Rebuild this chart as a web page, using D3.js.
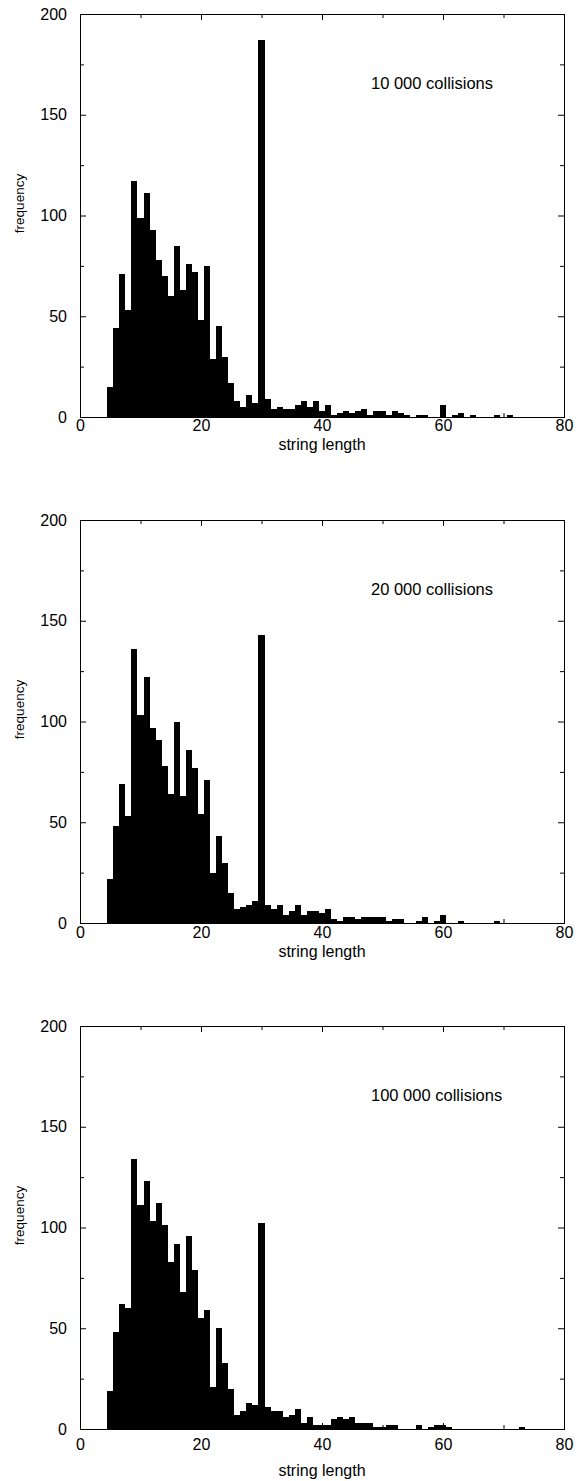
<!DOCTYPE html>
<html lang="en">
<head>
<meta charset="UTF-8">
<title>String length histograms</title>
<style>
    body { margin: 0; background: #fff; }
    svg { display: block; background: #fff; }
    .tick text { font-family: "Liberation Sans", Arial, sans-serif; font-size: 16px; fill: #000; }
    .tick line { stroke: #000; }
    .frame { fill: none; stroke: #000; stroke-width: 1px; }
    .bar { fill: #000; shape-rendering: crispEdges; }
    .label { font-family: "Liberation Sans", Arial, sans-serif; fill: #000; }
</style>
<script src="https://cdn.jsdelivr.net/npm/d3@7"></script>
</head>
<body>
<script>
    // string lengths 5..73 (one bin per length)
    const lengths = d3.range(5, 74);

    // frequencies, index 0 = length 5
    const freq10k = [15, 44, 71, 53, 117, 99, 111, 93, 78, 70, 60, 85, 63, 76, 72, 48, 75, 29, 45, 30,
        17, 8, 5, 11, 7, 187, 9, 4, 5, 4, 4, 6, 8, 5, 8, 3, 6, 1, 2, 3,
        2, 3, 4, 1, 3, 3, 1, 3, 2, 1, 0, 1, 1, 0, 0, 6, 0, 1, 2, 0,
        1, 0, 0, 0, 1, 0, 1, 0, 0];
    const freq20k = [22, 48, 69, 53, 136, 103, 122, 97, 91, 78, 64, 100, 63, 86, 77, 54, 71, 25, 43, 30,
        15, 7, 8, 9, 11, 143, 9, 7, 9, 4, 6, 9, 4, 6, 6, 5, 7, 2, 1, 3,
        3, 2, 3, 3, 3, 3, 1, 2, 2, 0, 0, 1, 3, 0, 1, 4, 0, 0, 1, 0,
        0, 0, 0, 0, 1, 0, 0, 0, 0];
    const freq100k = [19, 48, 62, 60, 134, 111, 123, 103, 112, 101, 83, 92, 68, 96, 79, 55, 59, 21, 50, 33,
        20, 7, 9, 13, 12, 102, 11, 9, 9, 6, 7, 10, 3, 6, 2, 2, 2, 5, 6, 5,
        6, 3, 3, 3, 1, 1, 2, 2, 0, 0, 0, 2, 0, 1, 2, 2, 1, 0, 0, 0,
        0, 0, 0, 0, 0, 0, 0, 0, 1];

    const seriesLabels = ["10 000 collisions", "20 000 collisions", "100 000 collisions"];
    const xMajorTicks = [0, 20, 40, 60, 80];
    const xMinorTicks = [10, 30, 50, 70];
    const yMajorTicks = [0, 50, 100, 150, 200];
    const yMinorTicks = [25, 75, 125, 175];
    const xTitle = "string length";
    const yTitle = "frequency";

    const width = 576, height = 1481;
    const left = 80, right = 564, plotH = 403;

    // layout for each panel (top of plot, tick label / axis title offsets)
    const panels = [
        {values: freq10k, top: 14, tickPad: 3, titleOff: 33},
        {values: freq20k, top: 520, tickPad: 4, titleOff: 34},
        {values: freq100k, top: 1026, tickPad: 10, titleOff: 47}
    ];

    const svg = d3.select("body").append("svg")
        .attr("width", width)
        .attr("height", height);

    const x = d3.scaleLinear().domain([0, 80]).range([left, right]);

    panels.forEach((p, i) => {
        const y = d3.scaleLinear().domain([0, 200]).range([p.top + plotH, p.top]);
        const g = svg.append("g");

        // bars, one unit wide centred on each length
        g.selectAll(".bar")
            .data(lengths.map((len, k) => ({len: len, v: p.values[k]})).filter(d => d.v > 0))
            .enter()
            .append("rect")
            .attr("class", "bar")
            .attr("x", d => x(d.len - 0.5))
            .attr("width", d => x(d.len + 0.5) - x(d.len - 0.5))
            .attr("y", d => y(d.v))
            .attr("height", d => y(0) - y(d.v));

        // axes with inward ticks on all four sides
        const addAxis = (axis, tr, labels) => {
            const a = g.append("g").attr("transform", tr).call(axis);
            a.select(".domain").remove();
            if (!labels) a.selectAll("text").remove();
            return a;
        };
        const bottom = `translate(0,${y(0)})`, top = `translate(0,${p.top})`;
        addAxis(d3.axisBottom(x).tickValues(xMajorTicks).tickSize(-6).tickPadding(p.tickPad).tickFormat(d3.format("d")), bottom, true);
        addAxis(d3.axisBottom(x).tickValues(xMinorTicks).tickSize(-4), bottom, false);
        addAxis(d3.axisTop(x).tickValues(xMajorTicks).tickSize(-6), top, false);
        addAxis(d3.axisTop(x).tickValues(xMinorTicks).tickSize(-4), top, false);
        addAxis(d3.axisLeft(y).tickValues(yMajorTicks).tickSize(-6).tickPadding(13).tickFormat(d3.format("d")), `translate(${left},0)`, true);
        addAxis(d3.axisLeft(y).tickValues(yMinorTicks).tickSize(-4), `translate(${left},0)`, false);
        addAxis(d3.axisRight(y).tickValues(yMajorTicks).tickSize(-6), `translate(${right},0)`, false);
        addAxis(d3.axisRight(y).tickValues(yMinorTicks).tickSize(-4), `translate(${right},0)`, false);

        g.append("rect")
            .attr("class", "frame")
            .attr("x", left + 0.5)
            .attr("y", p.top + 0.5)
            .attr("width", right - left)
            .attr("height", plotH);

        // titles
        g.append("text")
            .attr("class", "label")
            .attr("x", (left + right) / 2)
            .attr("y", y(0) + p.titleOff)
            .attr("text-anchor", "middle")
            .style("font-size", "16px")
            .text(xTitle);

        g.append("text")
            .attr("class", "label")
            .attr("transform", `translate(24,${p.top + plotH / 2 - 12}) rotate(-90)`)
            .attr("text-anchor", "middle")
            .style("font-size", "13.5px")
            .text(yTitle);

        g.append("text")
            .attr("class", "label")
            .attr("x", 371)
            .attr("y", p.top + 75)
            .style("font-size", "16.5px")
            .text(seriesLabels[i]);
    });
</script>
</body>
</html>
